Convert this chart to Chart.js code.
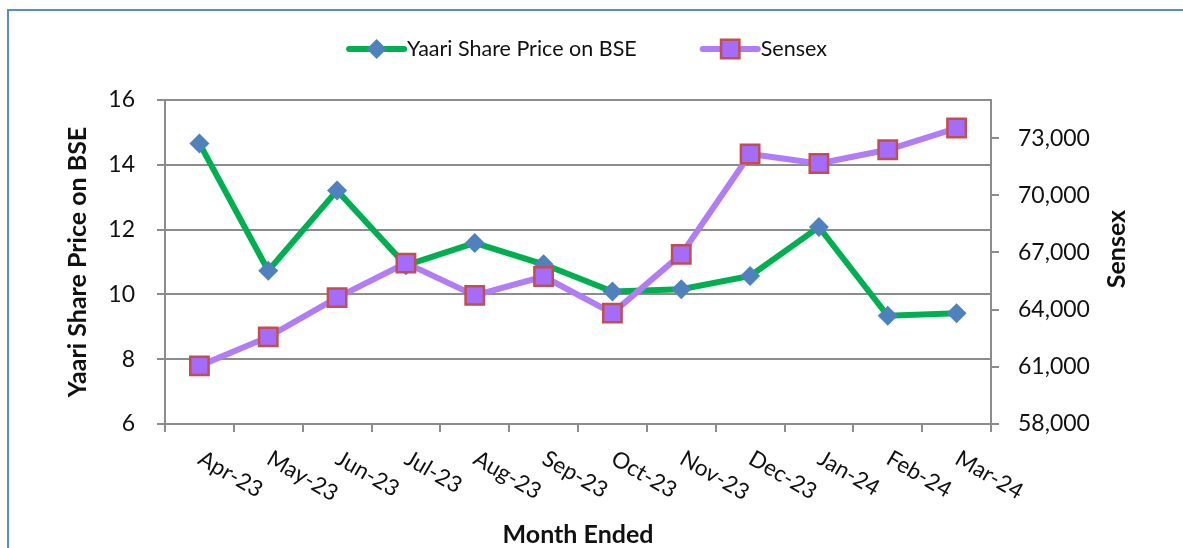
<!DOCTYPE html>
<html lang="en">
<head>
  <meta charset="UTF-8" />
  <title>Yaari Share Price vs Sensex</title>
  <script src="https://cdn.jsdelivr.net/npm/chart.js"></script>
  <style>
    html, body { margin: 0; padding: 0; background: #fff; overflow: hidden; }
    .wrap { position: relative; width: 1183px; height: 548px; }
    .frame {
      position: absolute; left: 7px; top: 9px; right: -10px; bottom: -10px;
      border-top: 2px solid #5b8ac8; border-left: 2px solid #5b8ac8;
      pointer-events: none;
    }
  </style>
</head>
<body>
<div class="wrap">
  <canvas id="grafico" width="1183" height="548"></canvas>
  <div class="frame"></div>
</div>

<script>
  // datos
  const months = ['Apr-23', 'May-23', 'Jun-23', 'Jul-23', 'Aug-23', 'Sep-23',
                  'Oct-23', 'Nov-23', 'Dec-23', 'Jan-24', 'Feb-24', 'Mar-24'];
  const yaariPrice = [14.66, 10.73, 13.21, 10.9, 11.59, 10.93, 10.09, 10.16, 10.57, 12.08, 9.34, 9.42];
  const sensex = [61050, 62570, 64630, 66440, 64750, 65740, 63820, 66900, 72170, 71670, 72390, 73530];
  const priceTicks = [6, 8, 10, 12, 14, 16];
  const sensexTicks = [58000, 61000, 64000, 67000, 70000, 73000];
  const sensexMax = 75000;

  const FONT = 'Lato, Calibri, sans-serif';
  const TEXT = '#111';
  const GRID = '#8c8c8c';
  Chart.defaults.font.family = FONT;
  Chart.defaults.color = TEXT;

  // etiquetas del eje X giradas hacia abajo (como en Excel) + titulo derecho
  const extraText = {
    id: 'extraText',
    afterDraw(chart) {
      const { ctx } = chart;
      const x = chart.scales.x;
      ctx.save();
      ctx.font = '22.5px ' + FONT;
      ctx.fillStyle = TEXT;
      ctx.textAlign = 'left';
      ctx.textBaseline = 'alphabetic';
      x.ticks.forEach((t, i) => {
        ctx.save();
        ctx.translate(x.getPixelForTick(i) - 3, x.top + 39);
        ctx.rotate(30 * Math.PI / 180);
        ctx.fillText(x.getLabelForValue(t.value), 0, 0);
        ctx.restore();
      });
      // titulo del eje derecho, leido de abajo hacia arriba
      const y1 = chart.scales.y1;
      ctx.save();
      ctx.translate(y1.right - 66, (y1.top + y1.bottom) / 2 - 13);
      ctx.rotate(-Math.PI / 2);
      ctx.font = 'bold 25px ' + FONT;
      ctx.textAlign = 'center';
      ctx.textBaseline = 'middle';
      ctx.fillText('Sensex', 0, 0);
      ctx.restore();
      ctx.restore();
    }
  };

  // leyenda con linea + marcador
  const lineLegend = {
    id: 'lineLegend',
    afterDraw(chart) {
      const { ctx } = chart;
      const y = 49, lineW = 55, gap = 3, itemGap = 66;
      ctx.save();
      ctx.font = '21.5px ' + FONT;
      const widths = chart.data.datasets.map(d => ctx.measureText(d.label).width);
      let total = 0;
      widths.forEach((w, i) => { total += lineW + gap + w + (i ? itemGap : 0); });
      let x = chart.width / 2 - 3.5 - total / 2;
      chart.data.datasets.forEach((d, i) => {
        ctx.strokeStyle = d.borderColor;
        ctx.lineWidth = d.borderWidth;
        ctx.lineCap = 'round';
        ctx.beginPath();
        ctx.moveTo(x, y);
        ctx.lineTo(x + lineW, y);
        ctx.stroke();
        const cx = x + lineW / 2;
        const r = d.pointRadius;
        ctx.fillStyle = d.pointBackgroundColor;
        ctx.beginPath();
        if (d.pointStyle === 'rectRot') {
          ctx.moveTo(cx, y - r); ctx.lineTo(cx + r, y); ctx.lineTo(cx, y + r); ctx.lineTo(cx - r, y);
          ctx.closePath();
          ctx.fill();
        } else {
          const s = r * Math.SQRT1_2;
          ctx.rect(cx - s, y - s, 2 * s, 2 * s);
          ctx.fill();
          ctx.lineWidth = d.pointBorderWidth;
          ctx.strokeStyle = d.pointBorderColor;
          ctx.stroke();
        }
        ctx.fillStyle = TEXT;
        ctx.textAlign = 'left';
        ctx.textBaseline = 'middle';
        ctx.fillText(d.label, x + lineW + gap, y);
        x += lineW + gap + widths[i] + itemGap;
      });
      ctx.restore();
    }
  };

  const ctx = document.getElementById('grafico').getContext('2d');
  const grafico = new Chart(ctx, {
    type: 'line',
    data: {
      labels: months,
      datasets: [{
        label: 'Yaari Share Price on BSE',
        data: yaariPrice,
        yAxisID: 'y',
        order: 1,
        borderColor: '#00b050',
        borderWidth: 6,
        pointStyle: 'rectRot',
        pointRadius: 10,
        pointHoverRadius: 10,
        pointBackgroundColor: '#4f81bd',
        pointBorderColor: '#4f81bd',
        pointBorderWidth: 0
      }, {
        label: 'Sensex',
        data: sensex,
        yAxisID: 'y1',
        order: 0,
        borderColor: '#b07df7',
        borderWidth: 6,
        pointStyle: 'rect',
        pointRadius: 13,
        pointHoverRadius: 13,
        pointBackgroundColor: '#a56cf9',
        pointBorderColor: '#c0504d',
        pointBorderWidth: 2.5
      }]
    },
    options: {
      responsive: false,
      animation: false,
      layout: { padding: { top: 100, left: 0, right: 0, bottom: 0 } },
      plugins: {
        legend: { display: false },
        tooltip: { enabled: false }
      },
      scales: {
        x: {
          offset: true,
          afterFit: s => { s.height = 124; },
          grid: { offset: true, drawOnChartArea: false, drawTicks: true, tickLength: 8, color: GRID, lineWidth: 2 },
          border: { color: GRID, width: 2 },
          ticks: { display: false },
          title: { display: true, text: 'Month Ended', font: { size: 25, weight: 'bold' }, padding: { top: 0, bottom: -2 } }
        },
        y: {
          position: 'left',
          min: priceTicks[0],
          max: priceTicks[priceTicks.length - 1],
          afterBuildTicks: s => { s.ticks = priceTicks.map(v => ({ value: v })); },
          afterFit: s => { s.width = 165; },
          grid: { color: GRID, lineWidth: 2, tickLength: 8 },
          border: { color: GRID, width: 2 },
          ticks: { padding: 22, font: { size: 23 } },
          title: { display: true, text: 'Yaari Share Price on BSE', font: { size: 25, weight: 'bold' }, padding: { top: 63, bottom: 0 } }
        },
        y1: {
          position: 'right',
          min: sensexTicks[0],
          max: sensexMax,
          afterBuildTicks: s => { s.ticks = sensexTicks.map(v => ({ value: v })); },
          afterFit: s => { s.width = 192; },
          grid: { drawOnChartArea: false, color: GRID, lineWidth: 2, tickLength: 8 },
          border: { color: GRID, width: 2 },
          ticks: { padding: 19, font: { size: 23 }, callback: v => v.toLocaleString('en-US') }
        }
      }
    },
    plugins: [extraText, lineLegend]
  });
</script>
</body>
</html>
